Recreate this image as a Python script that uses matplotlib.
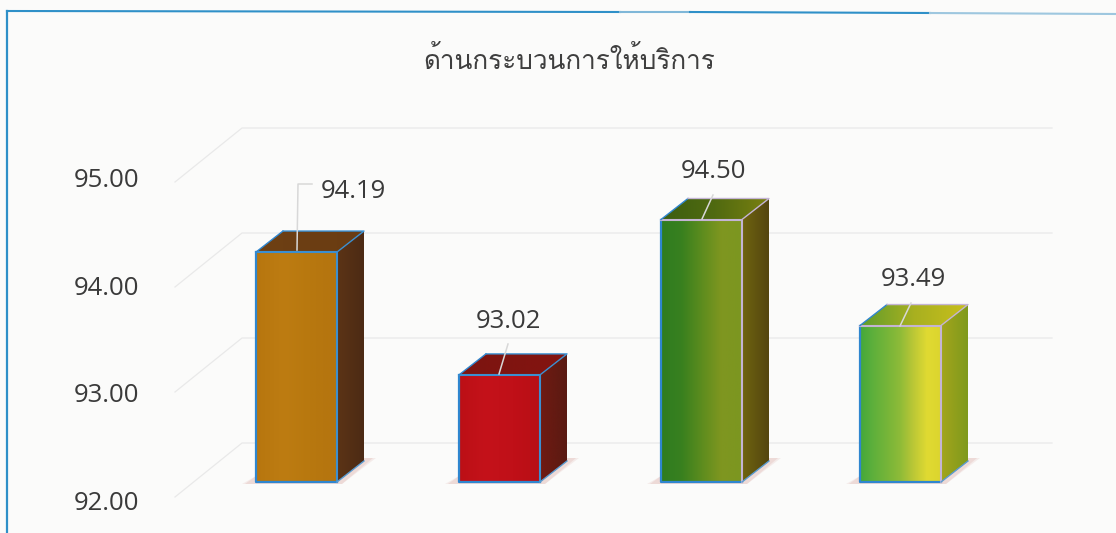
#!/usr/bin/env python3
# 3D-look column chart, drawn on a pixel-sized axes with skewed top/side faces
import numpy as np
import matplotlib
matplotlib.use("Agg")
import matplotlib.pyplot as plt
from matplotlib import font_manager as fm
from matplotlib.colors import LinearSegmentedColormap
from matplotlib.patches import Polygon

TITLE = "ด้านกระบวนการให้บริการ"
values = [94.19, 93.02, 94.50, 93.49]
ticks = [92, 93, 94, 95]
tick_labels = ["92.00", "93.00", "94.00", "95.00"]
front_colors = [["#b7760f", "#bd7c12", "#b8780f", "#b4740f"],
                ["#bc0f16", "#c4121a", "#c01018", "#b80f15"],
                ["#2f7d20", "#38801f", "#5c8c1e", "#7f9620", "#7c9620"],
                ["#44a83c", "#5fb03b", "#76b539", "#8fbb38", "#bcc836", "#e0da32", "#dcd52e"]]
top_colors = [["#6e4014", "#6a3c12"],
              ["#7c1410", "#841410"],
              ["#3c5e10", "#506a10", "#7a8010"],
              ["#5f9c2c", "#a8b020", "#c8bf1c"]]
side_colors = [["#5c3416", "#4c2a14"],
               ["#701a12", "#5a1a12"],
               ["#6f6410", "#54460f"],
               ["#a3a51c", "#7f9a1c"]]
edge_right = ["#3b8fd0", "#3b8fd0", "#c4b4d4", "#c4b4d4"]

# pick whatever installed face really has Thai, fall back to the default
thai = None
for f in fm.fontManager.ttflist:
    try:
        if 0x0E01 in fm.get_font(f.fname).get_charmap():
            thai = f.name
            break
    except Exception:
        pass
plt.rcParams["font.family"] = ([thai] if thai else []) + ["DejaVu Sans"]

BG = "#fbfbfa"
BLUE = "#2f90c8"
fig = plt.figure(figsize=(11.16, 5.33), dpi=100, facecolor=BG)
ax = fig.add_axes([0, 0, 1, 1])
ax.axis("off")

# value -> pixel y of the front plane
y0, per_unit = 482, 105.0
yv = lambda v: y0 - (v - 92) * per_unit


def grad_poly(pts, colors, zorder):
    # polygon filled with a left-right gradient
    xa = [p[0] for p in pts]; ya = [p[1] for p in pts]
    cmap = LinearSegmentedColormap.from_list("g", colors)
    im = ax.imshow(np.linspace(0, 1, 128).reshape(1, -1), cmap=cmap, aspect="auto", zorder=zorder,
                   extent=(min(xa), max(xa), max(ya), min(ya)))
    clip = Polygon(pts, closed=True, transform=ax.transData)
    im.set_clip_path(clip)


# frame, the top line washes out towards the right like the scan
ax.plot([7, 7], [533, 11], color=BLUE, lw=1.6, zorder=2)
ax.plot([7, 620], [11, 12], color=BLUE, lw=1.5, zorder=2)
ax.plot([620, 690], [12, 12], color="#7fb7d8", lw=1.5, zorder=2)
ax.plot([690, 930], [12, 13], color=BLUE, lw=1.5, zorder=2)
ax.plot([930, 1116], [13, 14], color="#9ec7df", lw=1.5, zorder=2)

# gridlines on the back wall + the slanted floor edge
for t, lab in zip(ticks, tick_labels):
    yb = yv(t) - 39
    ax.plot([175, 242, 1052], [yb + 54, yb, yb], color="#e9e9e9", lw=0.9, zorder=1)
    ax.text(139, 503.5 - (t - 92) * 107.7, lab, fontsize=18.5, color="#3a3a3a", ha="right", va="center",
            family="Open Sans", zorder=6)

ax.text(569, 60, TITLE, fontsize=18.8, color="#2a2a2a", ha="center", va="center", alpha=0.9)

xs = [256, 459, 661, 860]
w, dx, dy = 81, 27, 21
label_pos = [(353, 191), (508, 322), (714, 172), (913, 280)]
leaders = [([297, 298, 312], [250, 184, 184]),
           ([499, 508], [374, 344]),
           ([702, 713], [219, 195]),
           ([900, 911], [326, 303])]
for i, v in enumerate(values):
    x, top = xs[i], yv(v)
    # soft shadow on the floor
    for grow, a in ((3, .35), (0, .6)):
        ax.add_patch(Polygon([(x - 11 - grow, y0 + 2), (x + w + 5, y0 + 2), (x + w + dx + 9 + grow, y0 - 24),
                              (x + w, y0 - 24), (x, y0 - 6)], fc="#e9cfcc", ec="none", alpha=a, zorder=2))
    grad_poly([(x, top), (x + w, top), (x + w, y0), (x, y0)], front_colors[i], 3)
    grad_poly([(x, top), (x + dx, top - dy), (x + w + dx, top - dy), (x + w, top)], top_colors[i], 3)
    grad_poly([(x + w, top), (x + w + dx, top - dy), (x + w + dx, y0 - dy), (x + w, y0)], side_colors[i], 3)
    # edges: blue left + bottom, the rest depends on the bar
    ax.plot([x, x, x + w], [top, y0, y0], color="#2f86cf", lw=1.6, zorder=4)
    ax.plot([x, x + w, x + w], [top, top, y0], color=edge_right[i], lw=1.5, zorder=4)
    ax.plot([x, x + dx], [top, top - dy], color="#2f86cf", lw=1.0, zorder=4)
    ax.plot([x + w, x + w + dx, x + dx], [top, top - dy, top - dy], color=edge_right[i], lw=1.0, zorder=4)
    ax.plot([x + w, x + w + dx], [y0, y0 - dy], color="#5a9bd0", lw=1.0, zorder=4)
    ax.plot(leaders[i][0], leaders[i][1], color="#d8d8d8", lw=1.1, zorder=5)
    ax.text(label_pos[i][0], label_pos[i][1], f"{v:.2f}", fontsize=18.5, color="#3a3a3a", ha="center",
            va="center", family="Open Sans", zorder=6)

ax.set_xlim(0, 1116); ax.set_ylim(533, 0)
fig.savefig("out.png", dpi=100, facecolor=fig.get_facecolor())
